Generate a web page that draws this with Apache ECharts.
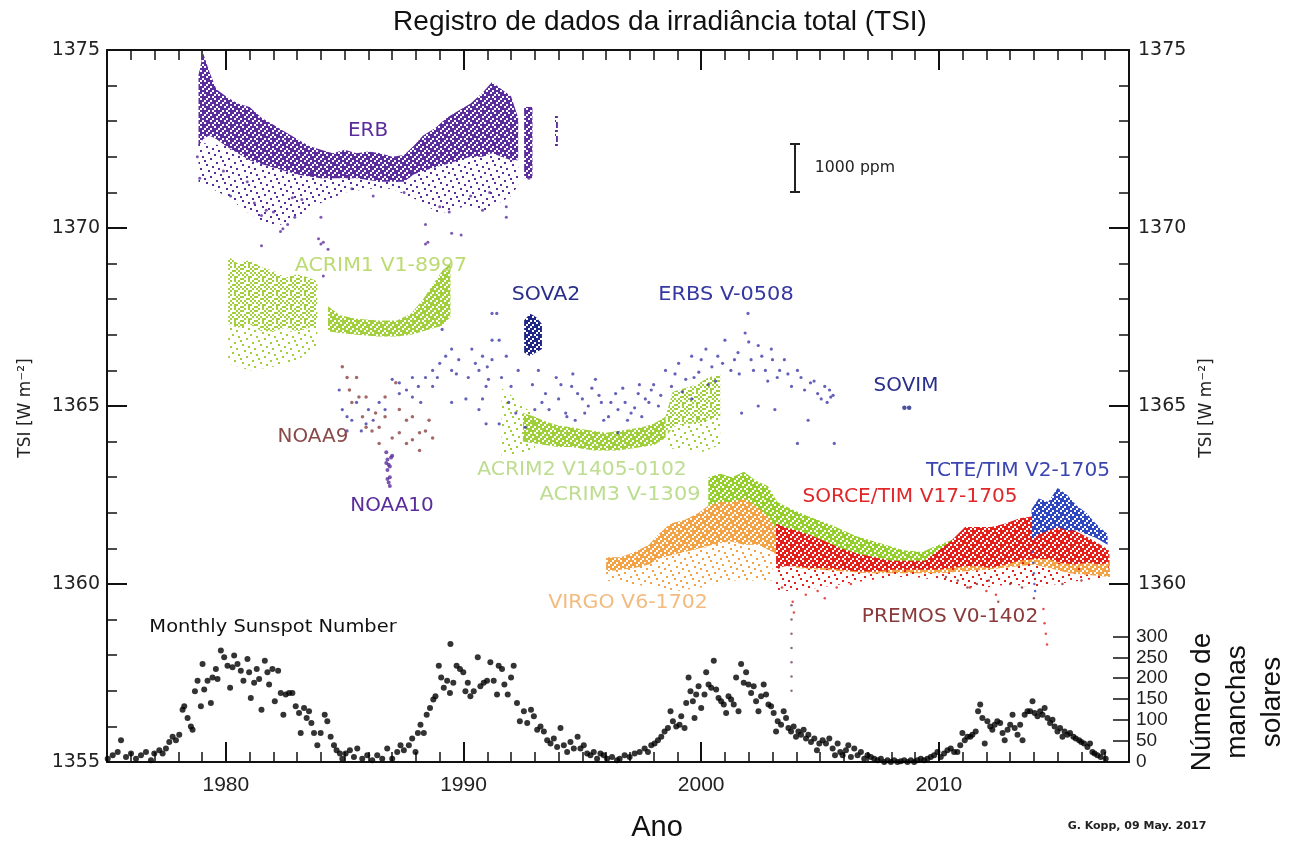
<!DOCTYPE html>
<html><head><meta charset="utf-8">
<script src="https://cdn.jsdelivr.net/npm/echarts@6/dist/echarts.min.js"></script>
<style>html,body{margin:0;padding:0;background:#fff}#c{width:1291px;height:841px}</style>
</head><body><div id="c"></div>
<script>
// ---------- axis ticks ----------
const majorYears = [1980, 1990, 2000, 2010];
const minorYears = [1976,1977,1978,1979,1981,1982,1983,1984,1985,1986,1987,1988,1989,1991,1992,1993,1994,1995,1996,1997,1998,1999,2001,2002,2003,2004,2005,2006,2007,2008,2009,2011,2012,2013,2014,2015,2016,2017];
const rightTsiLabels = [1360, 1365, 1370, 1375];
const rightTsiMinor = [1361,1362,1363,1364,1366,1367,1368,1369,1371,1372,1373,1374];
const sunspotTicks = [0, 50, 100, 150, 200, 250, 300];

// ---------- TSI bands: [year, low, high] ----------
const erbBand = [[1978.85,1372.3,1374.3],[1979.05,1372.5,1374.9],[1979.3,1372.6,1374.4],[1979.6,1372.5,1373.9],[1980.0,1372.3,1373.7],[1980.5,1372.1,1373.5],[1981.0,1371.9,1373.4],[1981.5,1371.8,1373.1],[1982.0,1371.7,1372.9],[1982.5,1371.6,1372.7],[1983.0,1371.5,1372.5],[1983.5,1371.45,1372.3],[1984.0,1371.4,1372.2],[1984.5,1371.4,1372.1],[1985.0,1371.4,1372.2],[1985.5,1371.4,1372.1],[1986.0,1371.35,1372.15],[1986.5,1371.3,1372.1],[1987.0,1371.3,1372.0],[1987.5,1371.3,1372.05],[1987.9,1371.5,1372.3],[1988.3,1371.6,1372.6],[1988.8,1371.7,1372.8],[1989.3,1371.8,1373.1],[1989.8,1371.9,1373.3],[1990.3,1372.0,1373.5],[1990.8,1372.0,1373.8],[1991.2,1372.1,1374.1],[1991.6,1372.0,1373.9],[1992.0,1371.9,1373.7],[1992.3,1371.9,1373.1]];
const erbHalo = [[1978.85,1371.3,1372.4],[1980.0,1370.9,1372.3],[1981.0,1370.4,1371.9],[1982.0,1370.0,1371.7],[1983.0,1370.3,1371.6],[1984.0,1370.7,1371.5],[1985.0,1371.0,1371.5],[1986.0,1371.1,1371.4],[1987.0,1371.1,1371.4],[1988.0,1370.8,1371.6],[1989.0,1370.4,1371.8],[1990.0,1370.6,1372.0],[1991.0,1370.5,1372.1],[1992.0,1370.9,1372.0],[1992.3,1371.2,1371.9]];
const erbBand2 = [[1992.55,1371.4,1373.4],[1992.9,1371.4,1373.4]];
const erbBand3 = [[1993.85,1372.3,1373.2],[1993.97,1372.3,1373.2]];
const erbOutliers = [[1978.8,1372.0],[1978.9,1371.4],[1980.2,1370.9],[1980.9,1371.3],[1981.5,1370.35],[1981.5,1369.5],[1982.0,1370.45],[1982.3,1369.9],[1982.6,1370.1],[1982.8,1370.85],[1983.9,1369.7],[1984.0,1370.3],[1984.3,1369.4],[1985.3,1371.1],[1988.4,1370.1],[1988.5,1369.6],[1989.4,1370.45],[1989.5,1369.85],[1989.9,1369.8],[1990.8,1370.5],[1991.8,1370.6],[1991.8,1370.3],[1992.75,1371.4],[1981.7,1370.5],[1982.4,1369.98],[1984.0,1369.55],[1984.1,1369.6],[1984.1,1368.65],[1988.4,1369.55],[1981.2,1370.7],[1983.2,1370.8],[1986.2,1370.9],[1987.5,1371.0],[1990.3,1370.9],[1991.1,1371.0],[1979.9,1371.6],[1982.9,1370.3],[1989.0,1370.6]];

const acrim1BandA = [[1980.1,1367.3,1369.2],[1980.5,1367.2,1369.0],[1981.0,1367.3,1369.1],[1981.5,1367.1,1368.9],[1982.0,1367.1,1368.8],[1982.5,1367.2,1368.6],[1983.0,1367.1,1368.7],[1983.5,1367.2,1368.6],[1983.85,1367.3,1368.5]];
const acrim1TailA = [[1980.1,1366.2,1367.3],[1981.0,1366.0,1367.3],[1982.0,1366.1,1367.1],[1983.0,1366.3,1367.1],[1983.85,1366.6,1367.3]];
const acrim1BandB = [[1984.3,1367.1,1367.8],[1984.8,1367.05,1367.55],[1985.5,1367.0,1367.45],[1986.4,1366.95,1367.4],[1987.2,1366.95,1367.4],[1987.8,1367.0,1367.6],[1988.3,1367.1,1368.0],[1988.8,1367.2,1368.5],[1989.1,1367.25,1368.8],[1989.45,1367.5,1369.0]];

const sova2Band = [[1992.55,1366.5,1367.4],[1992.8,1366.4,1367.6],[1993.05,1366.5,1367.5],[1993.3,1366.6,1367.3]];

const acrim2Early = [[1991.6,1363.6,1365.5],[1992.0,1363.6,1365.3],[1992.5,1363.7,1365.0],[1993.0,1363.8,1364.75]];
const acrim2Band = [[1992.5,1364.0,1364.8],[1993.0,1363.95,1364.7],[1993.5,1363.9,1364.55],[1994.0,1363.85,1364.45],[1994.5,1363.85,1364.4],[1995.0,1363.8,1364.35],[1995.5,1363.75,1364.3],[1996.0,1363.75,1364.25],[1996.5,1363.75,1364.3],[1997.0,1363.8,1364.35],[1997.5,1363.85,1364.4],[1998.0,1363.9,1364.5],[1998.5,1364.1,1364.7]];
const acrim2Late = [[1998.5,1364.1,1364.7],[1998.8,1364.4,1365.4],[1999.3,1364.5,1365.5],[1999.8,1364.5,1365.6],[2000.3,1364.6,1365.8],[2000.8,1364.7,1365.9]];
const acrim2Halo = [[1998.6,1363.8,1364.4],[1999.3,1363.8,1364.6],[2000.0,1363.7,1364.7],[2000.8,1363.9,1364.8]];

const acrim3Band = [[2000.3,1362.2,1363.0],[2000.8,1362.3,1363.1],[2001.3,1362.3,1363.0],[2001.8,1362.4,1363.15],[2002.3,1362.2,1362.9],[2002.8,1361.9,1362.75],[2003.2,1361.5,1362.3],[2003.8,1361.2,1362.1],[2004.5,1361.0,1361.9],[2005.5,1360.8,1361.65],[2006.5,1360.7,1361.35],[2007.5,1360.6,1361.15],[2008.5,1360.55,1360.95],[2009.3,1360.5,1360.9],[2010.0,1360.6,1361.1],[2010.8,1360.8,1361.3],[2011.5,1360.9,1361.5],[2012.3,1360.9,1361.5],[2013.0,1361.0,1361.6],[2013.8,1360.9,1361.4]];

const virgoBand = [[1996.0,1360.35,1360.75],[1996.6,1360.4,1360.75],[1997.2,1360.45,1360.9],[1997.8,1360.55,1361.1],[1998.2,1360.7,1361.4],[1998.7,1360.8,1361.7],[1999.3,1360.9,1361.8],[1999.9,1361.0,1362.0],[2000.5,1361.1,1362.3],[2001.2,1361.2,1362.4],[2001.8,1361.1,1362.5],[2002.4,1361.1,1362.3],[2003.0,1360.9,1362.0],[2004.0,1360.45,1361.4],[2005.0,1360.4,1361.2],[2007.0,1360.3,1360.9],[2008.5,1360.3,1360.7],[2010.0,1360.3,1360.8],[2012.0,1360.4,1361.2],[2014.0,1360.55,1361.4],[2015.5,1360.3,1361.2],[2017.2,1360.2,1360.9]];
const virgoHalo = [[1996.0,1360.1,1360.4],[1997.0,1360.0,1360.45],[1998.2,1359.9,1360.7],[1999.0,1359.8,1360.9],[2000.0,1359.9,1361.0],[2001.0,1360.1,1361.2],[2002.0,1360.1,1361.1],[2003.0,1360.1,1360.9]];

const sorceBand = [[2003.15,1360.4,1361.7],[2003.5,1360.5,1361.6],[2004.0,1360.5,1361.5],[2004.5,1360.45,1361.4],[2005.2,1360.45,1361.2],[2005.9,1360.4,1361.0],[2006.6,1360.35,1360.85],[2007.3,1360.35,1360.75],[2008.0,1360.4,1360.65],[2008.7,1360.4,1360.65],[2009.4,1360.4,1360.65],[2010.0,1360.4,1360.95],[2010.5,1360.45,1361.2],[2011.1,1360.5,1361.6],[2011.7,1360.5,1361.6],[2012.2,1360.45,1361.6],[2012.8,1360.55,1361.7],[2013.4,1360.65,1361.85],[2014.0,1360.7,1361.9],[2014.6,1360.7,1362.05],[2015.1,1360.6,1361.8],[2015.7,1360.55,1361.5],[2016.3,1360.6,1361.3],[2016.8,1360.55,1361.1],[2017.15,1360.6,1360.95]];
const sorceHalo = [[2003.15,1359.8,1360.4],[2004.0,1359.8,1360.5],[2005.0,1359.9,1360.45],[2006.0,1360.0,1360.4],[2007.0,1360.1,1360.35],[2008.0,1360.2,1360.4],[2009.0,1360.2,1360.4],[2010.0,1360.1,1360.4],[2011.0,1359.9,1360.5],[2012.0,1359.9,1360.45],[2013.0,1360.0,1360.6],[2014.0,1359.9,1360.7],[2015.0,1360.0,1360.6],[2016.0,1360.1,1360.6],[2017.15,1360.2,1360.6]];
const sorceDips = [[2003.4,1359.9],[2003.85,1359.5],[2003.9,1359.2],[2004.4,1359.7],[2004.9,1359.8],[2005.2,1359.6],[2005.7,1359.9],[2006.3,1360.0],[2011.3,1359.9],[2012.0,1359.8],[2012.4,1359.7],[2014.4,1359.3],[2014.45,1358.9],[2014.5,1358.6],[2014.55,1358.3]];
const stormDips = [[2003.8,1359.4],[2003.8,1359.0],[2003.8,1358.6],[2003.8,1358.2],[2003.8,1357.8],[2003.8,1357.4],[2003.8,1357.0]];

const tcteBand = [[2013.9,1361.2,1362.1],[2014.2,1361.4,1362.4],[2014.6,1361.5,1362.3],[2015.0,1361.6,1362.7],[2015.4,1361.5,1362.5],[2015.8,1361.5,1362.2],[2016.2,1361.4,1362.0],[2016.6,1361.3,1361.7],[2017.1,1361.1,1361.4]];
const tcteDips = [[2013.95,1360.9],[2013.97,1360.6],[2014.0,1360.3],[2014.02,1360.0],[2014.05,1359.8]];
const premosDots = [[2010.3,1360.2],[2010.8,1360.1],[2011.2,1359.9],[2011.6,1360.0],[2012.1,1360.1],[2012.5,1359.5],[2013.0,1360.0],[2013.5,1359.9],[2014.0,1359.6],[2015.2,1360.0],[2016.0,1360.1]];

// ---------- TSI scattered instruments: [year, TSI] ----------
const erbsPoints = [[1984.77,1365.45],[1984.9,1364.9],[1985.1,1364.7],[1985.3,1364.6],[1985.5,1365.1],[1985.9,1364.5],[1986.0,1364.9],[1986.45,1365.1],[1986.7,1364.9],[1987.3,1365.35],[1987.6,1365.45],[1987.85,1365.25],[1988.1,1365.55],[1988.4,1365.8],[1988.7,1366.0],[1989.0,1366.2],[1989.25,1366.4],[1989.5,1366.6],[1989.8,1366.3],[1990.2,1365.8],[1990.65,1366.0],[1991.05,1365.75],[1991.4,1367.6],[1989.1,1367.15],[1987.3,1365.65],[1987.85,1365.8],[1988.7,1365.55],[1989.5,1366.0],[1990.35,1366.6],[1990.8,1366.4],[1991.2,1366.85],[1990.65,1364.9],[1987.0,1365.75],[1989.5,1365.1],[1985.1,1364.3],[1985.7,1364.3],[1990.95,1365.55],[1991.2,1367.6],[1991.2,1366.3],[1991.5,1366.85],[1991.6,1365.8],[1991.8,1366.4],[1992.0,1365.55],[1992.3,1366.0],[1991.5,1364.5],[1990.8,1365.2],[1993.45,1365.35],[1993.15,1366.0],[1993.3,1365.1],[1993.9,1365.8],[1994.0,1365.2],[1994.3,1364.8],[1994.55,1365.55],[1994.7,1364.6],[1995.0,1365.2],[1995.25,1365.0],[1995.55,1365.75],[1995.8,1365.1],[1996.1,1364.7],[1996.4,1365.35],[1996.5,1364.9],[1996.8,1365.1],[1997.05,1364.8],[1997.35,1365.35],[1997.65,1365.2],[1997.9,1365.45],[1998.2,1365.0],[1998.5,1366.0],[1998.75,1365.55],[1999.05,1366.2],[1999.35,1365.75],[1999.6,1366.4],[1999.9,1365.95],[2000.2,1366.6],[2000.45,1366.1],[2000.7,1366.4],[2001.0,1366.85],[2001.25,1366.0],[2001.55,1366.5],[2001.85,1367.05],[2001.97,1367.6],[2002.1,1366.3],[2002.4,1366.7],[2002.7,1366.0],[2002.95,1366.6],[2003.2,1365.8],[2003.5,1366.3],[2003.8,1365.55],[2004.05,1366.0],[2004.35,1365.45],[2004.6,1365.65],[2004.9,1365.35],[2005.2,1365.55],[2005.3,1365.1],[2005.45,1365.25],[2001.7,1364.8],[2004.5,1364.6],[2005.6,1363.95],[2002.4,1365.0],[1999.6,1365.2],[1992.6,1364.4],[1994.35,1364.7],[1996.5,1364.25],[1990.95,1364.5],[1990.1,1365.2],[2004.05,1363.95],[2003.1,1364.9],[1992.9,1365.6],[1993.6,1364.9],[1994.1,1365.6],[1994.8,1365.35],[1995.1,1364.8],[1995.4,1365.5],[1995.9,1364.6],[1996.2,1365.1],[1996.7,1365.5],[1997.2,1364.95],[1997.5,1364.7],[1997.8,1365.1],[1998.0,1365.6],[1998.3,1365.3],[1998.9,1365.9],[1999.2,1365.4],[1999.7,1365.8],[2000.0,1366.3],[2000.6,1365.7],[2000.9,1366.2],[2001.4,1366.3],[2001.6,1365.9],[2002.2,1366.0],[2002.55,1366.4],[2002.8,1365.7],[2003.3,1366.0],[2003.65,1365.9],[2004.2,1365.8],[2004.75,1365.7],[2005.05,1365.2],[2005.4,1365.45],[2005.55,1365.3],[1993.0,1364.9],[1994.6,1365.9],[1995.7,1365.3],[1996.9,1364.6],[1997.4,1365.6],[2003.0,1366.3],[2002.0,1366.8],[2000.3,1365.6],[1986.2,1364.6],[1988.2,1365.1],[1988.9,1365.8],[1989.7,1365.9],[1990.5,1366.2],[1991.0,1366.1],[1991.9,1365.1],[1992.2,1364.8]];
const noaa9Points = [[1984.9,1366.1],[1985.1,1365.8],[1985.2,1365.45],[1985.3,1365.1],[1985.6,1365.25],[1985.75,1364.7],[1985.9,1364.4],[1986.15,1364.3],[1986.45,1364.4],[1986.7,1364.7],[1987.0,1364.1],[1987.3,1364.25],[1987.6,1363.95],[1987.85,1364.05],[1988.15,1364.25],[1988.4,1364.3],[1985.5,1365.8],[1986.3,1364.8],[1987.3,1364.9],[1987.85,1364.7],[1988.55,1364.6],[1985.9,1365.25],[1986.7,1365.25],[1987.6,1364.6],[1988.15,1363.75],[1988.7,1364.1],[1987.15,1365.65],[1986.45,1363.95]];
const noaa10Points = [[1986.75,1363.7],[1986.8,1363.5],[1986.85,1363.35],[1986.8,1363.2],[1986.9,1363.0],[1986.85,1362.85],[1986.95,1363.55],[1986.9,1363.3],[1986.8,1362.95],[1986.9,1362.75],[1987.0,1363.6],[1986.75,1363.4]];
const sovimPoints = [[2008.55,1364.95],[2008.75,1364.95]];

// ---------- monthly sunspot number: [year, count] ----------
const sunspots = [[1975.03,8],[1975.24,16],[1975.45,24],[1975.59,52],[1975.80,12],[1976.01,20],[1976.22,8],[1976.43,16],[1976.64,24],[1976.85,4],[1976.99,20],[1977.20,28],[1977.34,20],[1977.48,32],[1977.62,48],[1977.76,60],[1977.90,52],[1978.04,65],[1978.18,125],[1978.25,133],[1978.39,105],[1978.53,85],[1978.60,77],[1978.70,169],[1978.81,194],[1978.95,133],[1979.02,234],[1979.09,173],[1979.23,194],[1979.37,141],[1979.44,202],[1979.58,222],[1979.65,198],[1979.79,266],[1979.93,250],[1980.07,230],[1980.18,177],[1980.28,226],[1980.35,254],[1980.49,234],[1980.63,218],[1980.74,194],[1980.91,246],[1980.98,214],[1981.05,153],[1981.19,189],[1981.30,222],[1981.40,198],[1981.50,125],[1981.64,242],[1981.75,214],[1981.82,185],[1981.96,222],[1982.06,145],[1982.20,218],[1982.31,165],[1982.42,113],[1982.52,161],[1982.66,165],[1982.80,165],[1982.94,133],[1983.08,117],[1983.15,69],[1983.29,129],[1983.40,105],[1983.50,121],[1983.60,93],[1983.71,69],[1983.85,40],[1983.99,69],[1984.16,113],[1984.27,97],[1984.41,60],[1984.55,40],[1984.66,28],[1984.80,20],[1984.90,8],[1985.04,20],[1985.22,28],[1985.39,12],[1985.53,32],[1985.74,8],[1985.95,16],[1986.16,4],[1986.37,16],[1986.58,8],[1986.79,32],[1987.00,8],[1987.21,24],[1987.35,40],[1987.49,28],[1987.70,40],[1987.84,56],[1987.98,24],[1988.08,69],[1988.19,89],[1988.33,69],[1988.45,113],[1988.59,129],[1988.73,149],[1988.82,157],[1988.96,230],[1989.06,202],[1989.17,177],[1989.31,194],[1989.43,165],[1989.45,282],[1989.57,189],[1989.71,230],[1989.85,222],[1989.99,214],[1990.08,169],[1990.18,189],[1990.29,157],[1990.43,169],[1990.60,250],[1990.71,181],[1990.85,189],[1990.99,194],[1991.13,238],[1991.27,194],[1991.41,161],[1991.48,230],[1991.62,222],[1991.72,185],[1991.86,161],[1992.00,202],[1992.11,230],[1992.25,141],[1992.37,97],[1992.54,121],[1992.68,93],[1992.84,125],[1992.96,109],[1993.10,77],[1993.24,85],[1993.38,73],[1993.52,52],[1993.66,44],[1993.80,56],[1993.94,36],[1994.08,81],[1994.22,40],[1994.36,24],[1994.50,48],[1994.64,32],[1994.80,60],[1994.92,32],[1995.06,40],[1995.20,20],[1995.34,16],[1995.48,24],[1995.62,8],[1995.76,20],[1995.90,16],[1996.04,8],[1996.25,12],[1996.46,4],
[1996.57,8],[1996.78,16],[1996.99,12],[1997.20,20],[1997.41,24],[1997.62,32],[1997.76,24],[1997.90,40],[1998.04,44],[1998.18,52],[1998.32,60],[1998.46,73],[1998.60,81],[1998.71,121],[1998.81,97],[1998.95,85],[1999.09,89],[1999.16,109],[1999.30,81],[1999.37,141],[1999.47,202],[1999.55,169],[1999.65,145],[1999.72,105],[1999.79,161],[1999.89,181],[2000.00,129],[2000.14,161],[2000.21,214],[2000.31,185],[2000.42,177],[2000.53,242],[2000.63,173],[2000.73,153],[2000.84,145],[2000.95,137],[2001.05,117],[2001.15,157],[2001.26,149],[2001.37,137],[2001.47,202],[2001.57,121],[2001.68,234],[2001.79,189],[2001.89,214],[2001.99,185],[2002.10,165],[2002.21,181],[2002.31,145],[2002.41,121],[2002.52,157],[2002.63,185],[2002.73,161],[2002.83,137],[2002.94,133],[2003.05,117],[2003.15,73],[2003.22,97],[2003.36,89],[2003.47,121],[2003.57,105],[2003.67,81],[2003.78,73],[2003.89,85],[2003.99,60],[2004.09,73],[2004.20,65],[2004.31,77],[2004.41,56],[2004.51,65],[2004.62,48],[2004.76,56],[2004.87,28],[2004.97,44],[2005.11,52],[2005.25,44],[2005.39,56],[2005.53,32],[2005.63,16],[2005.74,44],[2005.85,24],[2005.95,16],[2006.09,28],[2006.19,40],[2006.30,12],[2006.44,32],[2006.58,16],[2006.72,24],[2006.86,8],[2007.00,16],[2007.14,12],[2007.28,8],[2007.42,4],[2007.56,8],[2007.70,0],[2007.84,4],[2007.98,0],[2008.12,4],[2008.26,0],[2008.40,2],[2008.54,4],[2008.68,0],[2008.82,4],[2008.96,0],[2009.10,4],[2009.24,8],[2009.38,4],[2009.52,8],[2009.66,12],[2009.80,16],[2009.94,24],[2010.08,12],[2010.22,20],[2010.36,28],[2010.50,32],[2010.64,24],[2010.78,24],[2010.90,40],[2010.99,69],[2011.09,52],[2011.20,60],[2011.32,60],[2011.41,65],[2011.55,73],[2011.65,121],[2011.74,137],[2011.83,105],[2011.93,44],[2012.04,97],[2012.16,85],[2012.25,77],[2012.35,89],[2012.46,97],[2012.58,93],[2012.68,69],[2012.77,52],[2012.89,77],[2013.00,89],[2013.10,113],[2013.19,81],[2013.31,65],[2013.42,89],[2013.52,52],[2013.61,113],[2013.73,121],[2013.84,121],[2013.94,145],[2014.03,117],[2014.15,109],[2014.26,121],[2014.36,113],[2014.45,129],[2014.57,105],[2014.68,93],[2014.78,101],[2014.87,85],[2014.99,73],[2015.10,81],[2015.20,60],[2015.29,73],[2015.41,65],[2015.52,69],[2015.66,60],[2015.76,56],[2015.90,52],[2015.99,48],[2016.11,44],[2016.25,36],[2016.36,44],[2016.46,24],[2016.55,20],[2016.67,16],[2016.81,12],[2016.92,24],[2017.02,8]];

// ---------- texture helpers (styling only) ----------
const MASK_DENSE = ['1101101', '0111011', '1110110', '1011101', '0110111', '1101011', '1011110'];
const MASK_MID = ['1001010', '0110001', '1000110', '0101001', '1010100', '0001011', '0110010'];
const MASK_SPARSE = ['100000000', '000010000', '000000010', '010000000', '000001000', '000000001', '001000000', '000000100', '000100000'];
function texture(color, mask) {
  const cell = 2, n = mask.length;
  const cv = document.createElement('canvas');
  cv.width = n * cell; cv.height = n * cell;
  const ctx = cv.getContext('2d');
  ctx.fillStyle = color;
  for (let r = 0; r < n; r++) for (let c = 0; c < n; c++) if (mask[r][c] === '1') ctx.fillRect(c * cell, r * cell, cell, cell);
  return { image: cv, repeat: 'repeat' };
}
function band(data, fill, z) {
  return {
    type: 'custom', data: data, xAxisIndex: 0, yAxisIndex: 0, z: z || 2, silent: true, clip: true,
    encode: { x: 0, y: [1, 2] },
    renderItem: function (params, api) {
      if (params.dataIndexInside !== 0) return null;
      const n = params.dataInsideLength, top = [], bot = [];
      for (let j = 0; j < n; j++) {
        top.push(api.coord([api.value(0, j), api.value(2, j)]));
        bot.unshift(api.coord([api.value(0, j), api.value(1, j)]));
      }
      return { type: 'polygon', shape: { points: top.concat(bot) }, style: { fill: fill } };
    }
  };
}
function dots(data, color, size, yIdx, z) {
  return { type: 'scatter', data: data, xAxisIndex: 0, yAxisIndex: yIdx || 0, symbol: 'circle', symbolSize: size,
    itemStyle: { color: color }, silent: true, z: z || 3 };
}
function label(text, x, y, color, size, scaleX, font) {
  return { type: 'text', x: x, y: y, scaleX: scaleX || 1, z: 100,
    style: { text: text, fill: color, font: (font || (size + 'px "DejaVu Sans"')), textAlign: 'center', textVerticalAlign: 'middle', align: 'center', verticalAlign: 'middle' } };
}

const C = { erb: '#5b2d9c', acrim1: '#a2cf3c', erbs: '#3d3aa6', sova2: '#1f2684', noaa9: '#8c4444', noaa10: '#5b2d9c',
  acrim2: '#9fd03a', acrim3: '#94cf2c', virgo: '#f2a346', sorce: '#e3201b', tcte: '#2f48c0', premos: '#8b2e2e', black: '#000' };

const chart = echarts.init(document.getElementById('c'));
const axisLine = { show: true, onZero: false, lineStyle: { color: '#111', width: 2 } };
const xBase = { type: 'value', min: 1975, max: 2018, splitLine: { show: false } };
const yBase = { type: 'value', min: 1355, max: 1375, splitLine: { show: false } };
const plain = function (v) { return String(v); };

chart.setOption({
  animation: false,
  backgroundColor: '#fff',
  grid: { left: 107, right: 162, top: 50, bottom: 79, containLabel: false },
  xAxis: [
    Object.assign({}, xBase, { position: 'bottom', axisLine: axisLine,
      axisTick: { show: true, inside: true, length: 20, customValues: majorYears, lineStyle: { color: '#111', width: 2 } },
      axisLabel: { show: true, customValues: majorYears, formatter: plain, color: '#222', fontSize: 21, fontFamily: 'Liberation Sans', margin: 13 } }),
    Object.assign({}, xBase, { position: 'bottom', axisLine: { show: false, onZero: false },
      axisTick: { show: true, inside: true, length: 10, customValues: minorYears, lineStyle: { color: '#111', width: 1.5 } },
      axisLabel: { show: false } }),
    Object.assign({}, xBase, { position: 'top', axisLine: axisLine,
      axisTick: { show: true, inside: true, length: 20, customValues: majorYears, lineStyle: { color: '#111', width: 2 } },
      axisLabel: { show: false } }),
    Object.assign({}, xBase, { position: 'top', axisLine: { show: false, onZero: false },
      axisTick: { show: true, inside: true, length: 10, customValues: minorYears, lineStyle: { color: '#111', width: 1.5 } },
      axisLabel: { show: false } })
  ],
  yAxis: [
    Object.assign({}, yBase, { position: 'left', interval: 5, axisLine: axisLine,
      axisTick: { show: true, inside: true, length: 20, lineStyle: { color: '#111', width: 2 } },
      minorTick: { show: true, splitNumber: 5, length: 10, lineStyle: { color: '#111', width: 1.5 } },
      minorSplitLine: { show: false },
      axisLabel: { formatter: plain, color: '#222', fontSize: 19, fontFamily: 'DejaVu Sans', margin: 7 } }),
    Object.assign({}, yBase, { position: 'right', axisLine: axisLine,
      axisTick: { show: true, inside: true, length: 20, customValues: rightTsiLabels, lineStyle: { color: '#111', width: 2 } },
      axisLabel: { show: true, customValues: rightTsiLabels, formatter: plain, color: '#222', fontSize: 19, fontFamily: 'DejaVu Sans', margin: 9 } }),
    Object.assign({}, yBase, { position: 'right', axisLine: { show: false, onZero: false },
      axisTick: { show: true, inside: true, length: 10, customValues: rightTsiMinor, lineStyle: { color: '#111', width: 1.5 } },
      axisLabel: { show: false } }),
    { type: 'value', min: 0, max: 1700, position: 'right', splitLine: { show: false }, axisLine: { show: false, onZero: false },
      axisTick: { show: true, inside: true, length: 16, customValues: sunspotTicks, lineStyle: { color: '#111', width: 1.5 } },
      axisLabel: { show: true, customValues: sunspotTicks, formatter: plain, color: '#222', fontSize: 19, fontFamily: 'Liberation Sans', margin: 7 } }
  ],
  series: [
    band(erbHalo, texture(C.erb, MASK_SPARSE)), band(erbBand, texture(C.erb, MASK_DENSE)),
    band(erbBand2, texture(C.erb, MASK_DENSE)), band(erbBand3, texture(C.erb, MASK_MID)),
    dots(erbOutliers, C.erb, 3),
    band(acrim1TailA, texture(C.acrim1, MASK_SPARSE)), band(acrim1BandA, texture(C.acrim1, MASK_MID)), band(acrim1BandB, texture(C.acrim1, MASK_DENSE)),
    band(acrim2Halo, texture(C.acrim2, MASK_SPARSE)), band(acrim2Early, texture(C.acrim2, MASK_SPARSE)),
    band(acrim2Late, texture(C.acrim2, MASK_MID)), band(acrim2Band, texture(C.acrim2, MASK_DENSE)),
    dots(noaa9Points, C.noaa9, 3.5), dots(erbsPoints, C.erbs, 3.2), dots(noaa10Points, C.noaa10, 4),
    band(sova2Band, texture(C.sova2, MASK_DENSE), 4), dots(sovimPoints, C.sova2, 4.5),
    band(virgoHalo, texture(C.virgo, MASK_SPARSE)), band(sorceHalo, texture(C.sorce, MASK_SPARSE)),
    band(virgoBand, texture(C.virgo, MASK_DENSE)), band(acrim3Band, texture(C.acrim3, MASK_DENSE)), band(sorceBand, texture(C.sorce, MASK_DENSE)),
    dots(sorceDips, C.sorce, 2.5), dots(stormDips, '#6a4a6a', 2.5), dots(premosDots, C.premos, 2.5),
    band(tcteBand, texture(C.tcte, MASK_DENSE)), dots(tcteDips, C.tcte, 2.5),
    dots(sunspots, C.black, 6, 3, 5)
  ],
  graphic: [
    label('Registro de dados da irradiância total (TSI)', 660, 22, '#111', 28, 1, '28px "Liberation Sans"'),
    label('Ano', 657, 828, '#111', 29, 1, '29px "Liberation Sans"'),
    label('G. Kopp, 09 May. 2017', 1137, 826, '#222', 11, 1, 'bold 11px "DejaVu Sans"'),
    { type: 'text', x: 26, y: 408, rotation: Math.PI / 2, z: 100,
      style: { text: 'TSI [W m⁻²]', fill: '#222', font: '17px "DejaVu Sans"', textAlign: 'center', textVerticalAlign: 'middle', align: 'center', verticalAlign: 'middle' } },
    { type: 'text', x: 1207, y: 408, rotation: Math.PI / 2, z: 100,
      style: { text: 'TSI [W m⁻²]', fill: '#222', font: '17px "DejaVu Sans"', textAlign: 'center', textVerticalAlign: 'middle', align: 'center', verticalAlign: 'middle' } },
    { type: 'text', x: 1237, y: 702, rotation: Math.PI / 2, z: 100,
      style: { text: 'Número de\nmanchas\nsolares', fill: '#111', font: '28px "Liberation Sans"', lineHeight: 35, textAlign: 'center', textVerticalAlign: 'middle', align: 'center', verticalAlign: 'middle' } },
    label('ERB', 368, 131, C.erb, 19, 1.05),
    label('ACRIM1 V1-8997', 381, 266, '#bcdb72', 19, 1.08),
    label('SOVA2', 546, 295, '#2a2f8c', 19, 1.08),
    label('ERBS V-0508', 726, 295, '#3538a0', 19, 1.1),
    label('SOVIM', 906, 386, '#2a2f8c', 19, 1.05),
    label('NOAA9', 313, 437, '#8a4a4a', 19, 1.05),
    label('NOAA10', 392, 506, '#5b2d9c', 19, 1.05),
    label('ACRIM2 V1405-0102', 582, 470, '#bddd90', 19, 1.07),
    label('ACRIM3 V-1309', 620, 495, '#bddd90', 19, 1.1),
    label('TCTE/TIM V2-1705', 1018, 471, '#3a45b0', 19, 1.06),
    label('SORCE/TIM V17-1705', 910, 497, '#e0282a', 19, 1.06),
    label('VIRGO V6-1702', 628, 603, '#f2bb80', 19, 1.08),
    label('PREMOS V0-1402', 950, 617, '#8a3a3a', 19, 1.06),
    label('Monthly Sunspot Number', 273, 627, '#111', 18, 1.08),
    label('1000 ppm', 855, 168, '#222', 15, 1.05),
    { type: 'line', z: 100, shape: { x1: 795, y1: 144, x2: 795, y2: 192 }, style: { stroke: '#222', lineWidth: 2 } },
    { type: 'line', z: 100, shape: { x1: 790, y1: 144, x2: 800, y2: 144 }, style: { stroke: '#222', lineWidth: 2 } },
    { type: 'line', z: 100, shape: { x1: 790, y1: 192, x2: 800, y2: 192 }, style: { stroke: '#222', lineWidth: 2 } }
  ]
});
</script>
</body></html>
